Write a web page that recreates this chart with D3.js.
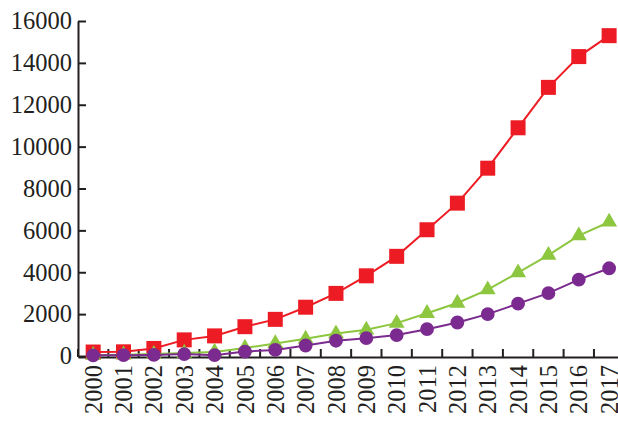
<!DOCTYPE html>
<html>
<head>
<meta charset="utf-8">
<script src="https://cdn.jsdelivr.net/npm/d3@7"></script>
<style>
  html, body { margin: 0; padding: 0; background: #fff; }
  svg { display: block; }
</style>
</head>
<body>
<svg id="chart" width="618" height="421"></svg>
<script>
// Years on the x axis
const years = ["2000","2001","2002","2003","2004","2005","2006","2007","2008",
               "2009","2010","2011","2012","2013","2014","2015","2016","2017"];

// Three series, one value per year
const squareSeries = [190, 200, 360, 770, 960, 1400, 1750, 2330, 2990, 3830,
                      4760, 6030, 7300, 8970, 10900, 12830, 14300, 15300];
const triangleSeries = [40, 60, 90, 140, 190, 380, 600, 820, 1070, 1250,
                        1570, 2040, 2530, 3170, 3980, 4820, 5750, 6400];
const circleSeries = [30, 40, 50, 90, 40, 210, 290, 500, 730, 850,
                      1000, 1280, 1600, 2000, 2500, 3000, 3650, 4190];

// Y axis ticks
const yTicks = [0, 2000, 4000, 6000, 8000, 10000, 12000, 14000, 16000];

const svg = d3.select("#chart");
const plotLeft = 78, plotTop = 21, plotBottom = 357;
const axisFont = '"Liberation Serif", "Times New Roman", serif';
const ink = "#231f20";

const x = d3.scaleBand().domain(years).range([plotLeft, plotLeft + 18 * 30.35]).padding(0);
const y = d3.scaleLinear().domain([0, 16000]).range([plotBottom - 1, plotTop]);
const cx = d => x(d) + x.bandwidth() / 2;

function styleAxis(g) {
  g.attr("font-family", null).attr("font-size", null);
  g.selectAll("text")
    .style("font-family", axisFont)
    .style("font-size", "24.5px")
    .attr("fill", ink);
  g.selectAll("path, line").attr("stroke", ink).attr("stroke-width", 2);
}

// X axis: labels centred in each band, ticks on band boundaries pointing inward
const xAxis = svg.append("g")
  .attr("transform", `translate(0,${plotBottom})`)
  .call(d3.axisBottom(x).tickSizeInner(-8).tickSizeOuter(0).tickPadding(8))
  .call(styleAxis);
xAxis.selectAll(".tick line").attr("transform", `translate(${-x.bandwidth() / 2},0)`);
xAxis.selectAll(".tick text")
  .attr("transform", "rotate(-90)")
  .attr("text-anchor", "end")
  .attr("x", -8)
  .attr("y", 0)
  .attr("dy", "0.35em");

// Y axis with inward ticks
svg.append("g")
  .attr("transform", `translate(${plotLeft},0)`)
  .call(d3.axisLeft(y).tickValues(yTicks).tickFormat(d3.format("d"))
    .tickSizeInner(-8).tickSizeOuter(0).tickPadding(6))
  .call(styleAxis);

const line = d3.line().x((d, i) => cx(years[i])).y(d => y(d));

function drawSeries(values, color, symbolType, size) {
  svg.append("path")
    .datum(values)
    .attr("fill", "none")
    .attr("stroke", color)
    .attr("stroke-width", 2)
    .attr("d", line);
  svg.append("g").selectAll("path")
    .data(values)
    .join("path")
    .attr("transform", (d, i) => `translate(${cx(years[i])},${y(d)})`)
    .attr("d", d3.symbol().type(symbolType).size(size))
    .attr("fill", color);
}

drawSeries(squareSeries, "#ed1c24", d3.symbolSquare, 225);
drawSeries(triangleSeries, "#8dc63f", d3.symbolTriangle, 110);
drawSeries(circleSeries, "#7b2a8f", d3.symbolCircle, 150);
</script>
</body>
</html>
